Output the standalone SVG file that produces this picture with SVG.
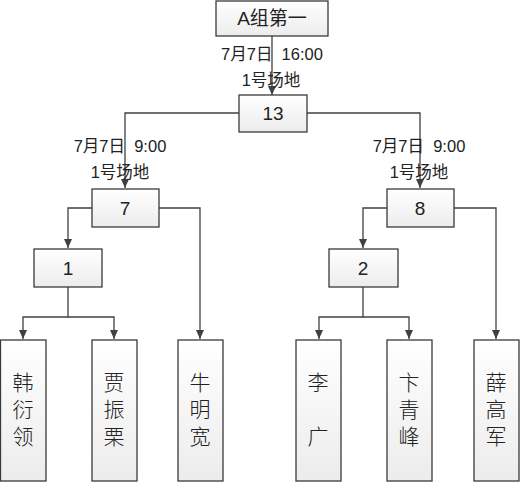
<svg xmlns="http://www.w3.org/2000/svg" width="521" height="483" viewBox="0 0 521 483">
<defs>
<linearGradient id="g" x1="0" y1="0" x2="0" y2="1">
<stop offset="0" stop-color="#ffffff"/>
<stop offset="1" stop-color="#ececec"/>
</linearGradient>
<marker id="a" markerWidth="10" markerHeight="10" refX="9" refY="5" orient="auto" markerUnits="userSpaceOnUse">
<path d="M0,1 L9,5 L0,9 Z" fill="#404040"/>
</marker>
<style>
.b{fill:url(#g);stroke:#3a3a3a;stroke-width:1.3}
.t{font-family:"Liberation Sans","Noto Sans CJK SC",sans-serif;fill:#222;text-anchor:middle;white-space:pre}
.n{font-size:19px}
.d{font-size:16.5px}
.l{font-size:21px;font-family:"Noto Sans CJK SC",sans-serif;font-weight:300;writing-mode:vertical-rl;letter-spacing:6px}
.c{fill:none;stroke:#404040;stroke-width:1.3}
</style>
</defs>
<rect width="521" height="483" fill="#fff"/>
<g id="connectors">
<path class="c" d="M272,36 V95" marker-end="url(#a)"/>
<path class="c" d="M239,113 H125 V188" marker-end="url(#a)"/>
<path class="c" d="M307,113 H420 V188" marker-end="url(#a)"/>
<path class="c" d="M92,208 H68 V248" marker-end="url(#a)"/>
<path class="c" d="M159,208 H200 V339" marker-end="url(#a)"/>
<path class="c" d="M387,208 H363 V248" marker-end="url(#a)"/>
<path class="c" d="M454,208 H496 V339" marker-end="url(#a)"/>
<path class="c" d="M68,287 V317 H23 V339" marker-end="url(#a)"/>
<path class="c" d="M68,317 H114 V339" marker-end="url(#a)"/>
<path class="c" d="M363,287 V317 H319 V339" marker-end="url(#a)"/>
<path class="c" d="M363,317 H409 V339" marker-end="url(#a)"/>
</g>
<g id="labels">
<text class="t d" x="272" y="60" xml:space="preserve">7月7日  16:00</text>
<text class="t d" x="271" y="86">1号场地</text>
<text class="t d" x="120" y="152" xml:space="preserve">7月7日  9:00</text>
<text class="t d" x="120" y="178">1号场地</text>
<text class="t d" x="419" y="152" xml:space="preserve">7月7日  9:00</text>
<text class="t d" x="419" y="178">1号场地</text>
</g>
<g id="nodeA"><rect class="b" x="216" y="1" width="112" height="35"/><text class="t n" x="272" y="25">A组第一</text></g>
<g id="node13"><rect class="b" x="239" y="95" width="68" height="37"/><text class="t n" x="273" y="120">13</text></g>
<g id="node7"><rect class="b" x="92" y="189" width="67" height="38"/><text class="t n" x="125" y="215">7</text></g>
<g id="node8"><rect class="b" x="387" y="189" width="67" height="38"/><text class="t n" x="420" y="215">8</text></g>
<g id="node1"><rect class="b" x="34" y="249" width="68" height="38"/><text class="t n" x="68" y="275">1</text></g>
<g id="node2"><rect class="b" x="329" y="249" width="69" height="38"/><text class="t n" x="363" y="275">2</text></g>
<g id="leaf1"><rect class="b" x="0.5" y="340" width="45.5" height="141"/><text class="t l" x="23" y="412">韩衍领</text></g>
<g id="leaf2"><rect class="b" x="92" y="340" width="45" height="141"/><text class="t l" x="114" y="412">贾振栗</text></g>
<g id="leaf3"><rect class="b" x="178" y="340" width="45" height="141"/><text class="t l" x="200" y="412">牛明宽</text></g>
<g id="leaf4"><rect class="b" x="296" y="340" width="45" height="141"/><text class="t l" x="318" y="412">李　广</text></g>
<g id="leaf5"><rect class="b" x="387" y="340" width="45" height="141"/><text class="t l" x="409" y="412">卞青峰</text></g>
<g id="leaf6"><rect class="b" x="474" y="340" width="45" height="141"/><text class="t l" x="496" y="412">薛高军</text></g>
</svg>
